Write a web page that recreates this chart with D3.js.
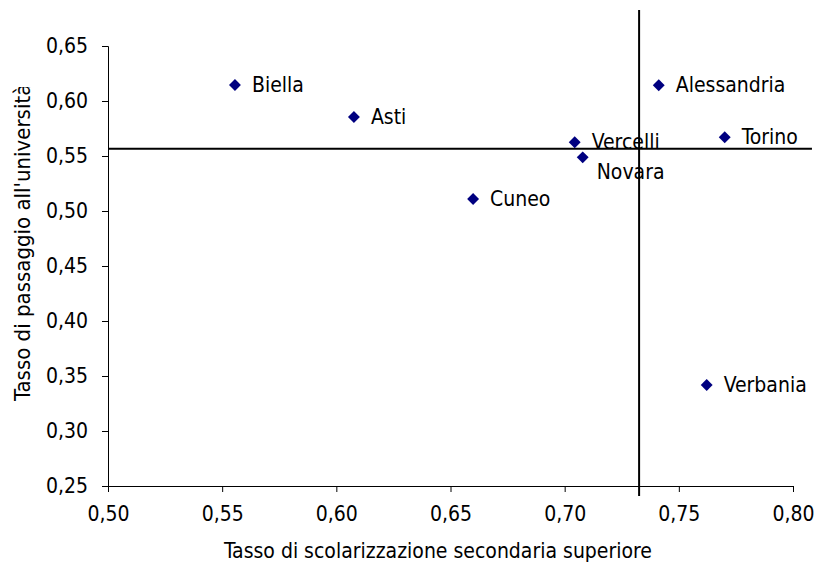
<!DOCTYPE html>
<html>
<head>
<meta charset="utf-8">
<script src="https://cdn.jsdelivr.net/npm/d3@7"></script>
<style>
  body { margin: 0; background: #fff; }
  svg text { font-family: "DejaVu Sans Condensed", "DejaVu Sans", sans-serif; fill: #000; font-size: 21px; }
</style>
</head>
<body>
<svg id="chart" width="817" height="564"></svg>
<script>
// province data
var provinces = ["Biella", "Asti", "Cuneo", "Vercelli", "Novara", "Alessandria", "Torino", "Verbania"];
var scolarizzazione = [0.5556, 0.6077, 0.6599, 0.7044, 0.7079, 0.7412, 0.7701, 0.7622];
var passaggio = [0.6145, 0.5855, 0.5109, 0.5625, 0.5488, 0.6143, 0.5670, 0.3418];

// regional averages (reference lines) and their extents
var mediaX = 0.7326;
var mediaY = 0.5565;
var hLineX = [0.50, 0.8083];
var vLineY = [0.2409, 0.6827];

var xTicks = [0.50, 0.55, 0.60, 0.65, 0.70, 0.75, 0.80];
var yTicks = [0.25, 0.30, 0.35, 0.40, 0.45, 0.50, 0.55, 0.60, 0.65];

var svg = d3.select("#chart");
var fmt = function(d){ return d3.format(".2f")(d).replace(".", ","); };

var x = d3.scaleLinear().domain([0.50, 0.80]).range([108, 793]);
var y = d3.scaleLinear().domain([0.25, 0.65]).range([486, 46]);

// axes
var xAxis = svg.append("g")
	.attr("transform", "translate(0,486)")
	.call(d3.axisBottom(x).tickValues(xTicks).tickFormat(fmt).tickSize(6).tickPadding(14));
var yAxis = svg.append("g")
	.attr("transform", "translate(108,0)")
	.call(d3.axisLeft(y).tickValues(yTicks).tickFormat(fmt).tickSize(6).tickPadding(14));

[xAxis, yAxis].forEach(function(ax){
	ax.attr("font-size", null).attr("font-family", null);
	ax.select(".domain").attr("stroke", "#000").attr("stroke-width", 1);
	ax.selectAll(".tick line").attr("stroke", "#000");
});

// reference lines
svg.append("line")
	.attr("x1", x(hLineX[0])).attr("x2", x(hLineX[1]))
	.attr("y1", y(mediaY)).attr("y2", y(mediaY))
	.attr("stroke", "#000").attr("stroke-width", 2);
svg.append("line")
	.attr("x1", x(mediaX)).attr("x2", x(mediaX))
	.attr("y1", y(vLineY[0])).attr("y2", y(vLineY[1]))
	.attr("stroke", "#000").attr("stroke-width", 2);

// points
var pts = svg.append("g");
provinces.forEach(function(name, i){
	var px = x(scolarizzazione[i]), py = y(passaggio[i]);
	pts.append("path")
		.attr("d", d3.symbol().type(d3.symbolDiamond2).size(90)())
		.attr("transform", "translate(" + px + "," + py + ")")
		.attr("fill", "#000080");
	// Novara label sits below-right so it doesn't collide with Vercelli
	var below = name === "Novara";
	pts.append("text")
		.attr("x", px + (below ? 14 : 17))
		.attr("y", py + (below ? 22 : 7))
		.text(name);
});

// axis titles
svg.append("text")
	.attr("x", 438).attr("y", 558)
	.attr("text-anchor", "middle")
	.text("Tasso di scolarizzazione secondaria superiore");

// y title is cut off at the top, as in the original
svg.append("clipPath").attr("id", "ytclip")
	.append("rect").attr("x", 0).attr("y", 87).attr("width", 60).attr("height", 400);
svg.append("g")
	.attr("clip-path", "url(#ytclip)")
	.append("text")
	.attr("transform", "translate(30,401) rotate(-90)")
	.attr("text-anchor", "start")
	.style("font-size", "22px")
	.text("Tasso di passaggio all'università");
</script>
</body>
</html>
